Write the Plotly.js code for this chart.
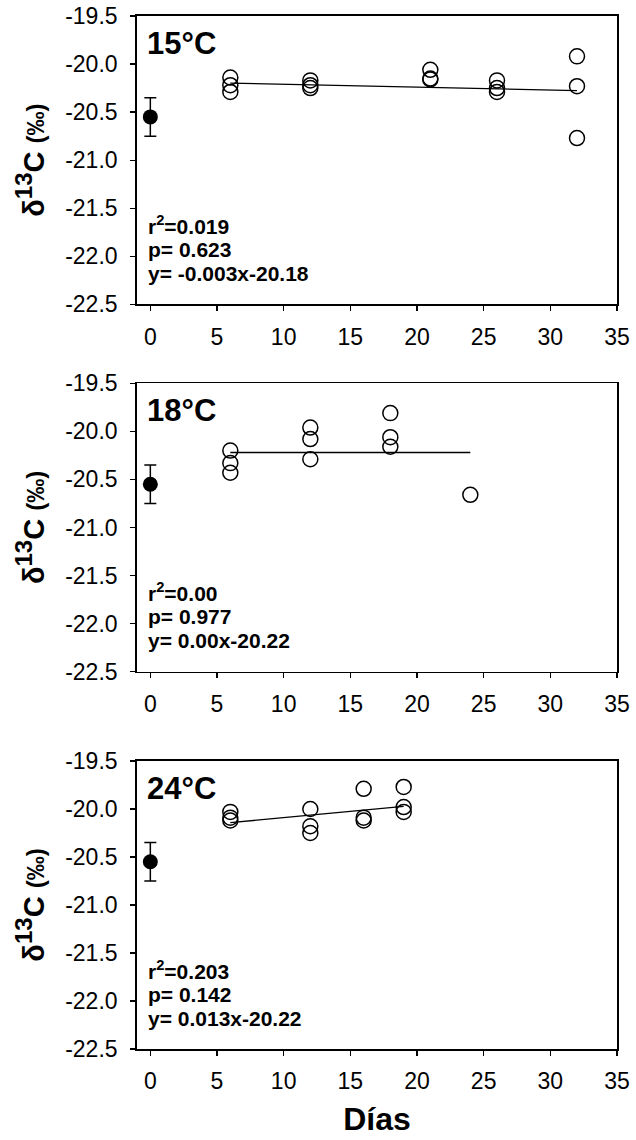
<!DOCTYPE html>
<html>
<head>
<meta charset="utf-8">
<script src="https://cdn.plot.ly/plotly-3.0.1.min.js"></script>
<style>
  html, body { margin: 0; padding: 0; background: #fff; }
  #chart { width: 636px; height: 1140px; }
</style>
</head>
<body>
<div id="chart"></div>
<script>
// ---- data ----
const temperatures = ['15°C', '18°C', '24°C'];

const days15 = [6, 6, 6, 12, 12, 12, 21, 21, 21, 26, 26, 26, 32, 32, 32];
const d13C15 = [-20.14, -20.22, -20.29, -20.17, -20.22, -20.25, -20.06, -20.15, -20.16, -20.17, -20.25, -20.29, -19.92, -20.23, -20.77];

const days18 = [6, 6, 6, 12, 12, 12, 18, 18, 18, 24];
const d13C18 = [-20.20, -20.33, -20.43, -19.96, -20.08, -20.29, -19.81, -20.06, -20.16, -20.66];

const days24 = [6, 6, 6, 12, 12, 12, 16, 16, 16, 19, 19, 19];
const d13C24 = [-20.03, -20.09, -20.12, -20.00, -20.18, -20.25, -19.79, -20.09, -20.12, -19.77, -19.98, -20.03];

const controlDay = [0];
const controlMean = [-20.55];
const controlErr = [0.20];

const slopes = [-0.003, 0.00, 0.013];
const intercepts = [-20.18, -20.22, -20.22];
const r2Labels = ['0.019', '0.00', '0.203'];
const pLabels = ['0.623', '0.977', '0.142'];
const eqLabels = ['y= -0.003x-20.18', 'y= 0.00x-20.22', 'y= 0.013x-20.22'];

const xTickVals = [0, 5, 10, 15, 20, 25, 30, 35];
const yTickVals = [-19.5, -20.0, -20.5, -21.0, -21.5, -22.0, -22.5];
const yTickText = ['-19.5', '-20.0', '-20.5', '-21.0', '-21.5', '-22.0', '-22.5'];

const panelDays = [days15, days18, days24];
const panelVals = [d13C15, d13C18, d13C24];

// ---- layout helpers ----
const FONT = 'Liberation Sans, Arial, sans-serif';
const domains = [[0.7209, 1], [0.3653, 0.6444], [0, 0.2788]];

const traces = [];
const annotations = [];
const layout = {
  width: 636, height: 1140,
  margin: { l: 137, r: 19, t: 16, b: 91 },
  paper_bgcolor: '#fff', plot_bgcolor: '#fff',
  showlegend: false,
  font: { family: FONT, color: '#000' },
  annotations: annotations
};

const yTitle = '<b>δ<sup><span style="font-size:24px">13</span></sup>C <span style="font-size:24px">(‰)</span></b>';

for (let i = 0; i < 3; i++) {
  const sfx = i === 0 ? '' : String(i + 1);
  const xa = 'x' + sfx, ya = 'y' + sfx;
  const days = panelDays[i], vals = panelVals[i];

  // regression line over sampled day range
  const xmin = Math.min.apply(null, days), xmax = Math.max.apply(null, days);
  traces.push({
    x: [xmin, xmax],
    y: [slopes[i] * xmin + intercepts[i], slopes[i] * xmax + intercepts[i]],
    xaxis: xa, yaxis: ya, mode: 'lines',
    line: { color: '#000', width: 1.3 }, hoverinfo: 'skip'
  });
  // control
  traces.push({
    x: controlDay, y: controlMean, xaxis: xa, yaxis: ya, mode: 'markers',
    marker: { color: '#000', size: 15, symbol: 'circle' },
    error_y: { type: 'data', array: controlErr, visible: true, color: '#000', thickness: 1.5, width: 6 }
  });
  // samples
  traces.push({
    x: days, y: vals, xaxis: xa, yaxis: ya, mode: 'markers',
    marker: { symbol: 'circle-open', color: '#000', size: 15, line: { width: 1.5 } }
  });

  const xaxisDef = {
    domain: [0, 1], anchor: ya, range: [-1, 35],
    tickmode: 'array', tickvals: xTickVals,
    ticks: 'outside', ticklen: 5, tickwidth: 1.3, tickcolor: '#000',
    ticklabelstandoff: 6,
    showline: true, linewidth: 1.8, linecolor: '#000', mirror: true,
    showgrid: false, zeroline: false,
    tickfont: { family: FONT, size: 23, color: '#000' }
  };
  if (i === 2) {
    xaxisDef.title = { text: '<b>Días</b>', font: { family: FONT, size: 32, color: '#000' }, standoff: 14 };
  }
  layout['xaxis' + sfx] = xaxisDef;
  layout['yaxis' + sfx] = {
    domain: domains[i], anchor: xa, range: [-22.5, -19.5],
    tickmode: 'array', tickvals: yTickVals, ticktext: yTickText,
    ticks: 'outside', ticklen: 5, tickwidth: 1.3, tickcolor: '#000',
    ticklabelstandoff: 8,
    showline: true, linewidth: 1.8, linecolor: '#000', mirror: true,
    showgrid: false, zeroline: false,
    tickfont: { family: FONT, size: 23, color: '#000' },
    title: { text: yTitle, font: { family: FONT, size: 29, color: '#000' }, standoff: 12 }
  };

  annotations.push({
    xref: xa + ' domain', yref: ya + ' domain', x: 0.017, y: 0.905,
    xanchor: 'left', yanchor: 'middle', showarrow: false,
    text: '<b>' + temperatures[i] + '</b>', font: { family: FONT, size: 31, color: '#000' }
  });
  const stats = ['<b>r<sup>2</sup>=' + r2Labels[i] + '</b>', '<b>p= ' + pLabels[i] + '</b>', '<b>' + eqLabels[i] + '</b>'];
  const ys = [0.275, 0.19, 0.107];
  for (let k = 0; k < 3; k++) {
    annotations.push({
      xref: xa + ' domain', yref: ya + ' domain', x: 0.018, y: ys[k],
      xanchor: 'left', yanchor: 'middle', showarrow: false,
      text: stats[k], font: { family: FONT, size: 21, color: '#000' }
    });
  }
}

Plotly.newPlot('chart', traces, layout, { displayModeBar: false, staticPlot: true });
</script>
</body>
</html>
